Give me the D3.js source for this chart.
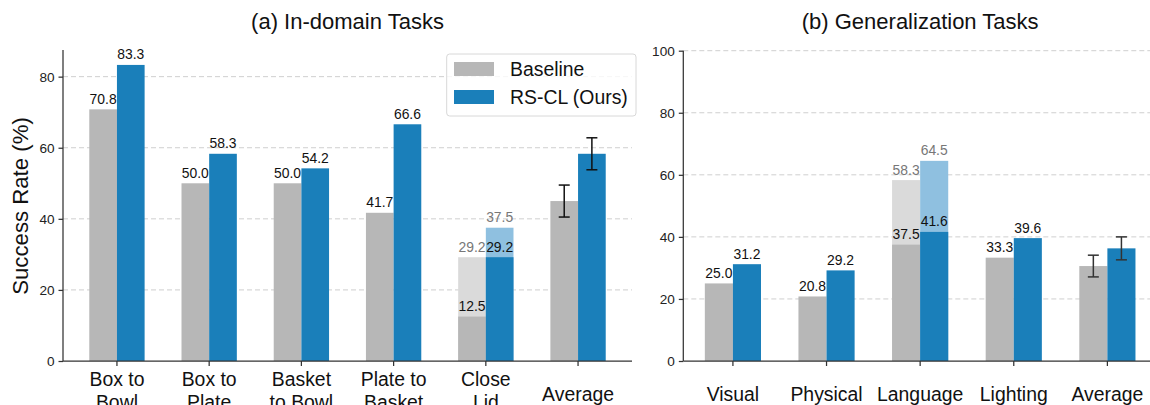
<!DOCTYPE html>
<html><head><meta charset="utf-8">
<script src="https://cdn.jsdelivr.net/npm/d3@7"></script>
<style>
body{margin:0;background:#fff;}
svg{display:block;font-family:"Liberation Sans",Arial,sans-serif;}
</style></head><body>
<svg id="c" width="1150" height="405"></svg>
<script>
// ---- data ----
const inCats = [["Box to","Bowl"],["Box to","Plate"],["Basket","to Bowl"],["Plate to","Basket"],["Close","Lid"],["Average"]];
const inBase = [70.8, 50.0, 50.0, 41.7, 12.5, 45.0];
const inOurs = [83.3, 58.3, 54.2, 66.6, 29.2, 58.3];
const inBaseExtra = [null, null, null, null, 29.2, null];
const inOursExtra = [null, null, null, null, 37.5, null];
const inBaseErr = [null, null, null, null, null, 4.5];
const inOursErr = [null, null, null, null, null, 4.5];
const inLabelShown = [true, true, true, true, true, false];
const inTicks = [0, 20, 40, 60, 80];

const genCats = [["Visual"],["Physical"],["Language"],["Lighting"],["Average"]];
const genBase = [25.0, 20.8, 37.5, 33.3, 30.6];
const genOurs = [31.2, 29.2, 41.6, 39.6, 36.3];
const genBaseExtra = [null, null, 58.3, null, null];
const genOursExtra = [null, null, 64.5, null, null];
const genBaseErr = [null, null, null, null, 3.5];
const genOursErr = [null, null, null, null, 3.7];
const genLabelShown = [true, true, true, true, false];
const genTicks = [0, 20, 40, 60, 80, 100];

const seriesNames = ["Baseline", "RS-CL (Ours)"];

const C = {base:"#b7b7b7", ours:"#1a7fba", baseLight:"#dadada", oursLight:"#8fc0e0"};
const svg = d3.select("#c");

function panel(o){
  const x = d3.scaleLinear().domain(o.xdom).range(o.xr);
  const y = d3.scaleLinear().domain(o.ydom).range([361, o.ytop]);
  const g = svg.append("g");
  const xEnd = Math.min(o.xr[1], 1150);
  // grid
  g.selectAll(".grid").data(o.ticks.filter(t=>t>0)).join("line")
    .attr("x1", o.xr[0]).attr("x2", xEnd)
    .attr("y1", d=>y(d)).attr("y2", d=>y(d))
    .attr("stroke", "#cfcfcf").attr("stroke-width", 1).attr("stroke-dasharray", "5,3");
  const w = 0.3;
  const idx = d3.range(o.base.length);
  // light extra bars
  const drawBars = (vals, off, col) => {
    g.selectAll(null).data(idx.filter(i=>vals[i]!=null)).join("rect")
      .attr("x", i=>x(i+off-w/2)).attr("width", i=>x(i+off+w/2)-x(i+off-w/2))
      .attr("y", i=>y(vals[i])).attr("height", i=>y(0)-y(vals[i]))
      .attr("fill", col);
  };
  drawBars(o.baseExtra, -0.15, C.baseLight);
  drawBars(o.oursExtra, 0.15, C.oursLight);
  drawBars(o.base, -0.15, C.base);
  drawBars(o.ours, 0.15, C.ours);
  // value labels
  const labels = (vals, off, col) => {
    g.selectAll(null).data(idx.filter(i=>vals[i]!=null && o.shown[i])).join("text")
      .attr("x", i=>x(i+off)).attr("y", i=>y(vals[i])-5.5)
      .attr("text-anchor","middle").attr("font-size","13.9px").attr("fill", col)
      .text(i=>vals[i].toFixed(1));
  };
  labels(o.baseExtra, -0.15, "#777");
  labels(o.oursExtra, 0.15, "#777");
  labels(o.base, -0.15, "#111");
  labels(o.ours, 0.15, "#111");
  // error bars
  const errs = (vals, err, off) => {
    idx.filter(i=>err[i]!=null).forEach(i=>{
      const cx = x(i+off), lo = y(vals[i]-err[i]), hi = y(vals[i]+err[i]);
      g.append("line").attr("x1",cx).attr("x2",cx).attr("y1",lo).attr("y2",hi)
        .attr("stroke",o.errCol).attr("stroke-width",1.5);
      [lo,hi].forEach(yy=>g.append("line").attr("x1",cx-5.5).attr("x2",cx+5.5)
        .attr("y1",yy).attr("y2",yy).attr("stroke",o.errCol).attr("stroke-width",1.5));
    });
  };
  errs(o.base, o.baseErr, -0.15);
  errs(o.ours, o.oursErr, 0.15);
  // y axis
  const ya = g.append("g").attr("transform", `translate(${o.xr[0]},0)`)
    .call(d3.axisLeft(y).tickValues(o.ticks).tickFormat(d3.format("d")).tickSize(4.5).tickPadding(4));
  ya.select(".domain").attr("stroke","#333").attr("stroke-width",1.25).attr("d", `M0,${o.ytop}V361`);
  ya.selectAll(".tick line").attr("stroke","#333").attr("stroke-width",1.25);
  ya.selectAll(".tick text").attr("font-size","13.6px").attr("fill","#222").attr("font-family","Liberation Sans, Arial, sans-serif");
  // x axis
  g.append("line").attr("x1",o.xr[0]).attr("x2",xEnd).attr("y1",361).attr("y2",361)
    .attr("stroke","#333").attr("stroke-width",1.25);
  idx.forEach(i=>{
    g.append("line").attr("x1",x(i)).attr("x2",x(i)).attr("y1",361).attr("y2",366)
      .attr("stroke","#333").attr("stroke-width",1.25);
    const lines = o.cats[i];
    const t = g.append("text").attr("text-anchor","middle").attr("font-size","19.4px").attr("fill","#111");
    if (lines.length === 1) {
      t.append("tspan").attr("x", x(i)).attr("y", 401).text(lines[0]);
    } else {
      lines.forEach((s,k)=>t.append("tspan").attr("x", x(i)).attr("y", 386 + k*23).text(s));
    }
  });
  // title
  g.append("text").attr("x", (o.xr[0]+o.xr[1])/2).attr("y", 29)
    .attr("text-anchor","middle").attr("font-size","22px").attr("fill","#111").text(o.title);
  return {x,y};
}

panel({xdom:[-0.585,5.585], xr:[63,632], ydom:[0,87.5], ytop:50,
  ticks:inTicks, cats:inCats, base:inBase, ours:inOurs, baseExtra:inBaseExtra, oursExtra:inOursExtra,
  baseErr:inBaseErr, oursErr:inOursErr, shown:inLabelShown, errCol:"#111", title:"(a) In-domain Tasks"});

panel({xdom:[-0.53,4.53], xr:[683.3,1157], ydom:[0,100], ytop:50.7,
  ticks:genTicks, cats:genCats, base:genBase, ours:genOurs, baseExtra:genBaseExtra, oursExtra:genOursExtra,
  baseErr:genBaseErr, oursErr:genOursErr, shown:genLabelShown, errCol:"#333", title:"(b) Generalization Tasks"});

// y label
svg.append("text").attr("transform","translate(28,206) rotate(-90)")
  .attr("text-anchor","middle").attr("font-size","22.2px").attr("fill","#111").text("Success Rate (%)");

// legend
const lg = svg.append("g");
lg.append("rect").attr("x",446.7).attr("y",54).attr("width",189.3).attr("height",62).attr("rx",3)
  .attr("fill","#fff").attr("fill-opacity",0.8).attr("stroke","#d8d8d8").attr("stroke-width",1);
[C.base, C.ours].forEach((col,k)=>{
  lg.append("rect").attr("x",454).attr("y",62+k*28).attr("width",40).attr("height",14).attr("fill",col);
  lg.append("text").attr("x",510).attr("y",76.3+k*28).attr("font-size","19.4px").attr("fill","#111").text(seriesNames[k]);
});
</script>
</body></html>
